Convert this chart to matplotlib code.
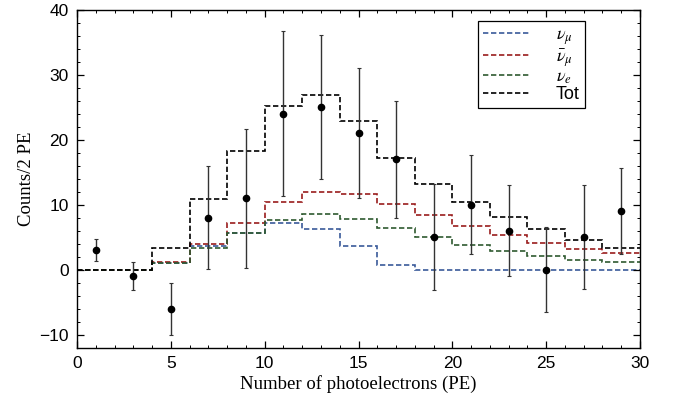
import matplotlib
matplotlib.use('Agg')
import matplotlib.pyplot as plt
import numpy as np
from matplotlib.ticker import MultipleLocator

plt.rcParams['font.family'] = ['Liberation Sans', 'DejaVu Sans']
plt.rcParams['mathtext.fontset'] = 'stix'

# bin edges (2 PE per bin)
edges = np.arange(0, 31, 2)

# expectations per bin
nu_mu = [0, 0, 1.0, 3.6, 5.7, 7.1, 6.25, 3.6, 0.65, 0, 0, 0, 0, 0, 0]
nubar_mu = [0, 0, 1.1, 4.0, 7.1, 10.4, 12.0, 11.6, 10.1, 8.4, 6.7, 5.4, 4.15, 3.2, 2.5]
nu_e = [0, 0, 1.0, 3.3, 5.6, 7.7, 8.5, 7.8, 6.4, 5.0, 3.85, 2.8, 2.05, 1.5, 1.1]
tot = [0, 0, 3.3, 10.8, 18.3, 25.1, 26.8, 22.9, 17.1, 13.2, 10.4, 8.1, 6.2, 4.6, 3.4]

# data points
x_data = [1, 3, 5, 7, 9, 11, 13, 15, 17, 19, 21, 23, 25, 27, 29]
y_data = [3, -1, -6, 8, 11, 24, 25, 21, 17, 5, 10, 6, 0, 5, 9]
y_err = [1.7, 2.2, 4.0, 7.9, 10.7, 12.7, 11.1, 10.0, 9.0, 8.1, 7.6, 7.0, 6.5, 8.0, 6.6]

fig = plt.figure(figsize=(6.73, 4.05), dpi=100)
ax = fig.add_axes([0.1144, 0.1415, 0.8366, 0.835])

dash = (0, (3.2, 1.6))
ax.stairs(nu_mu, edges, baseline=None, color='#3a5a9a', linestyle=dash, lw=1.2, label=r'$\nu_\mu$')
ax.stairs(nubar_mu, edges, baseline=None, color='#9a1c1c', linestyle=dash, lw=1.2, label=r'$\bar{\nu}_\mu$')
ax.stairs(nu_e, edges, baseline=None, color='#2f5a30', linestyle=dash, lw=1.2, label=r'$\nu_e$')
ax.stairs(tot, edges, baseline=None, color='black', linestyle=dash, lw=1.2, label='Tot')

ax.errorbar(x_data, y_data, yerr=y_err, fmt='o', color='black', ecolor='#333333',
            markersize=4.5, elinewidth=1.0, capsize=1.5, capthick=0.8)

ax.set_xlim(0, 30)
ax.set_ylim(-12, 40)
ax.xaxis.set_major_locator(MultipleLocator(5))
ax.xaxis.set_minor_locator(MultipleLocator(1))
ax.yaxis.set_minor_locator(MultipleLocator(2))
ax.set_yticks([-10, 0, 10, 20, 30, 40])
ax.set_yticklabels(['\u221210', '0', '10', '20', '30', '40'])
ax.tick_params(which='both', direction='in', top=True, right=True, labelsize=12.5)
ax.tick_params(which='major', length=5, width=0.9, pad=6)
ax.tick_params(which='minor', length=2.5, width=0.7)
for s in ax.spines.values():
    s.set_linewidth(1.0)

ax.set_xlabel('Number of photoelectrons (PE)', family='Liberation Serif', fontsize=13.5, labelpad=3)
ax.set_ylabel('Counts/2 PE', family='Liberation Serif', fontsize=13.5, labelpad=3)

leg = ax.legend(loc='upper right', bbox_to_anchor=(0.902, 0.966), borderaxespad=0,
                fancybox=False, edgecolor='black', framealpha=1, fontsize=13,
                handlelength=2.6, handletextpad=1.4, borderpad=0.3, labelspacing=0.0)
leg.get_frame().set_linewidth(0.9)

plt.savefig('out.png', dpi=100)
